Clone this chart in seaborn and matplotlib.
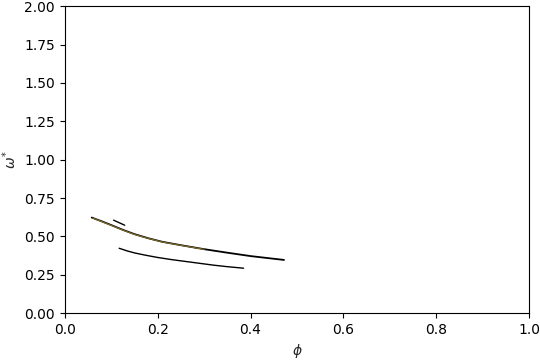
import matplotlib
matplotlib.use("Agg")
import matplotlib.pyplot as plt
import seaborn as sns
import numpy as np

# upper branch (black)
phi_upper = [0.058, 0.08, 0.10, 0.125, 0.15, 0.18, 0.21, 0.25, 0.30, 0.35, 0.40, 0.44, 0.472]
omega_upper = [0.623, 0.598, 0.574, 0.543, 0.515, 0.488, 0.465, 0.443, 0.417, 0.394, 0.372, 0.358, 0.347]
# overlapping branch (olive)
phi_olive = [0.060, 0.08, 0.10, 0.125, 0.15, 0.18, 0.21, 0.25, 0.30]
omega_olive = [0.620, 0.596, 0.572, 0.541, 0.513, 0.487, 0.464, 0.442, 0.416]
# short segment
phi_short = [0.105, 0.129]
omega_short = [0.606, 0.573]
# lower branch
phi_lower = [0.117, 0.135, 0.151, 0.175, 0.20, 0.23, 0.26, 0.29, 0.32, 0.35, 0.385]
omega_lower = [0.423, 0.405, 0.392, 0.377, 0.363, 0.349, 0.337, 0.325, 0.313, 0.303, 0.293]

sns.set_style("ticks")
plt.rcParams["font.family"] = ["DejaVu Sans"]

fig, ax = plt.subplots(figsize=(5.4, 3.6), dpi=100)

sns.lineplot(x=phi_upper, y=omega_upper, sort=False, color="black", lw=1.3, ax=ax)
sns.lineplot(x=phi_olive, y=omega_olive, sort=False, color="#7a6a2c", lw=0.9, ax=ax)
sns.lineplot(x=phi_short, y=omega_short, sort=False, color="black", lw=1.0, ax=ax)
sns.lineplot(x=phi_lower, y=omega_lower, sort=False, color="black", lw=1.0, ax=ax)

ax.set_xlim(0, 1)
ax.set_ylim(0, 2)
ax.set_xticks([0, 0.2, 0.4, 0.6, 0.8, 1.0])
ax.set_yticks(np.arange(0, 2.01, 0.25))
ax.set_xlabel(r"$\phi$")
ax.set_ylabel(r"$\omega^{*}$")
for s in ax.spines.values():
    s.set_visible(True)
    s.set_color("black")
    s.set_linewidth(0.8)
ax.tick_params(colors="black", direction="out", length=3.5, width=0.8)

fig.subplots_adjust(left=0.12, right=0.98, bottom=0.13, top=0.983)
fig.savefig("out.png", dpi=100)
